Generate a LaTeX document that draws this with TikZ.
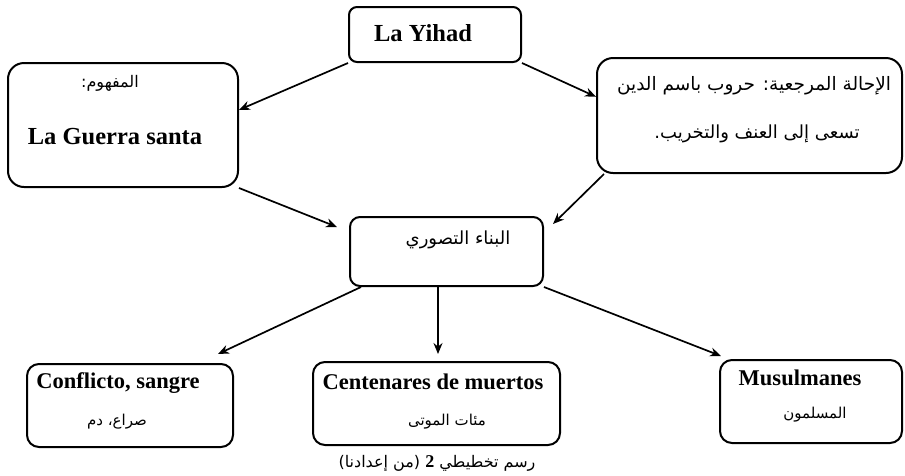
\documentclass[tikz,border=0pt]{standalone}
\usepackage{fontspec}
\setmainfont{Liberation Serif}
\newfontfamily\ar[Script=Arabic]{DejaVu Sans}
\TeXXeTstate=1
\usetikzlibrary{arrows.meta,calc}
\begin{document}
\begin{tikzpicture}[x=1pt,y=-1pt,
  box/.style={draw,line width=2pt,inner sep=0pt},
  lat/.style={font=\fontsize{22.5}{26}\selectfont\bfseries,inner sep=0pt},
  arb/.style={font=\ar\fontsize{#1}{20}\selectfont,inner sep=0pt},
  arr/.style={line width=1.7pt,-{Stealth[length=11pt,width=9pt]}}]
\useasboundingbox (0,0) rectangle (905,475);
% boxes
\node[box,rounded corners=8pt,minimum width=172pt,minimum height=55pt] (yihad) at (435,34.5) {};
\node[box,rounded corners=16pt,minimum width=230pt,minimum height=124pt] (mafhum) at (123,125) {};
\node[box,rounded corners=16pt,minimum width=305pt,minimum height=115pt] (ihala) at (749.5,115.5) {};
\node[box,rounded corners=10pt,minimum width=193pt,minimum height=69pt] (bina) at (446.5,251.5) {};
\node[box,rounded corners=12pt,minimum width=206pt,minimum height=83pt] (conf) at (130,405.5) {};
\node[box,rounded corners=12pt,minimum width=247pt,minimum height=83pt] (cent) at (436.5,403.5) {};
\node[box,rounded corners=12pt,minimum width=182pt,minimum height=83pt] (musl) at (811,401.5) {};
% texts
\node[lat,font=\fontsize{24.5}{28}\selectfont\bfseries] (t0) at (423,33) {La Yihad};
\node[arb=16] (t1) at (110,83) {\beginR المفهوم:\endR};
\node[lat,font=\fontsize{24.5}{28}\selectfont\bfseries] (t2) at (115,137) {La Guerra santa};
\node[arb=18.5] (t3) at (754,86) {\beginR الإحالة المرجعية: حروب باسم الدين\endR};
\node[arb=18] (t4) at (757,134) {\beginR تسعى إلى العنف والتخريب.\endR};
\node[arb=18] (t5) at (458,240) {\beginR البناء التصوري\endR};
\node[lat] (t6) at (118,383) {Conflicto, sangre};
\node[arb=15] (t7) at (117,422) {\beginR صراع، دم\endR};
\node[lat] (t8) at (433,382) {Centenares de muertos};
\node[arb=15] (t9) at (447,422) {\beginR مئات الموتى\endR};
\node[lat] (t10) at (800,378) {Musulmanes};
\node[arb=15] (t11) at (815,415) {\beginR المسلمون\endR};
\node[arb=16] (cap) at (437,463) {\beginR رسم تخطيطي \beginL{\rmfamily\bfseries\fontsize{18}{20}\selectfont 2}\endL{} (من إعدادنا)\endR};
% arrows
\draw[arr] (yihad.south west) -- ($(mafhum.north east)!0.38!(mafhum.south east)$);
\draw[arr] (yihad.south east) -- ($(ihala.north west)!0.34!(ihala.south west)$);
\draw[arr] (mafhum.south east) -- ($(bina.north west)+(-12,11)$);
\draw[arr] ($(ihala.south west)+(8,0)$) -- ($(bina.north east)+(9,8)$);
\draw[arr] ($(bina.south west)+(12,0)$) -- ($(conf.north east)+(-16,-9)$);
\draw[arr] ($(cent.north |- bina.south)+(1.5,0)$) -- ($(cent.north)+(1.5,-7)$);
\draw[arr] (bina.south east) -- ($(musl.north west)+(2,-3)$);
\end{tikzpicture}
\end{document}
